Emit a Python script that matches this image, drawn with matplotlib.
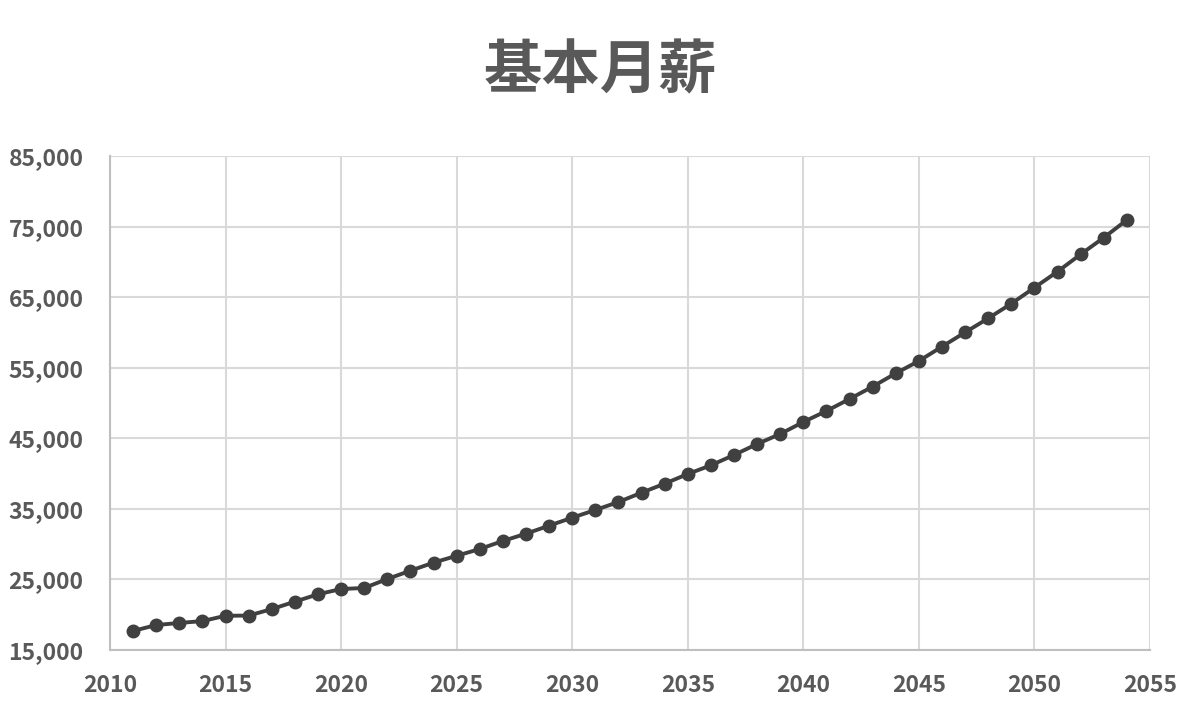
import matplotlib
matplotlib.use("Agg")
import matplotlib.pyplot as plt
from matplotlib.ticker import FuncFormatter

plt.rcParams['font.family'] = ['Noto Sans CJK SC', 'DejaVu Sans']

# 年份与基本月薪
years = list(range(2011, 2055))
salary = [17700, 18540, 18830, 19100, 19850, 19880, 20800, 21850, 22900, 23640,
          23790, 25060, 26240, 27380, 28350, 29310, 30450, 31480, 32620, 33750,
          34840, 35970, 37290, 38570, 39940, 41170, 42630, 44190, 45610, 47310,
          48870, 50570, 52320, 54210, 55950, 57990, 60010, 62000, 64080, 66350,
          68620, 71070, 73430, 75940]

title = "基本月薪"
x_ticks = list(range(2010, 2056, 5))
y_ticks = list(range(15000, 85001, 10000))

text_color = "#595959"
line_color = "#404040"
grid_color = "#d9d9d9"

fig = plt.figure(figsize=(12, 7.11), dpi=100)
ax = fig.add_axes([110 / 1200, 1 - 650 / 711, 1040 / 1200, 494 / 711])

ax.plot(years, salary, color=line_color, linewidth=2.8, marker="o",
        markersize=9, markerfacecolor=line_color, markeredgecolor=line_color, zorder=3)

ax.set_xlim(2010, 2055)
ax.set_ylim(15000, 85000)
ax.set_xticks(x_ticks)
ax.set_yticks(y_ticks)
ax.yaxis.set_major_formatter(FuncFormatter(lambda v, p: f"{int(v):,}"))

ax.grid(True, color=grid_color, linewidth=1.5)
ax.set_axisbelow(True)
for side in ["top", "right"]:
    ax.spines[side].set_visible(False)
for side in ["left", "bottom"]:
    ax.spines[side].set_color("#bfbfbf")
    ax.spines[side].set_linewidth(1.5)
ax.tick_params(length=0, labelsize=16.5, labelcolor=text_color)
ax.tick_params(axis="x", pad=17)
ax.tick_params(axis="y", pad=19)
for lab in ax.get_xticklabels() + ax.get_yticklabels():
    lab.set_fontweight("bold")

fig.text(0.5, 1 - 71 / 711, title, ha="center", va="center", fontsize=42,
         fontweight="bold", color=text_color)

fig.savefig("out.png", dpi=100)
